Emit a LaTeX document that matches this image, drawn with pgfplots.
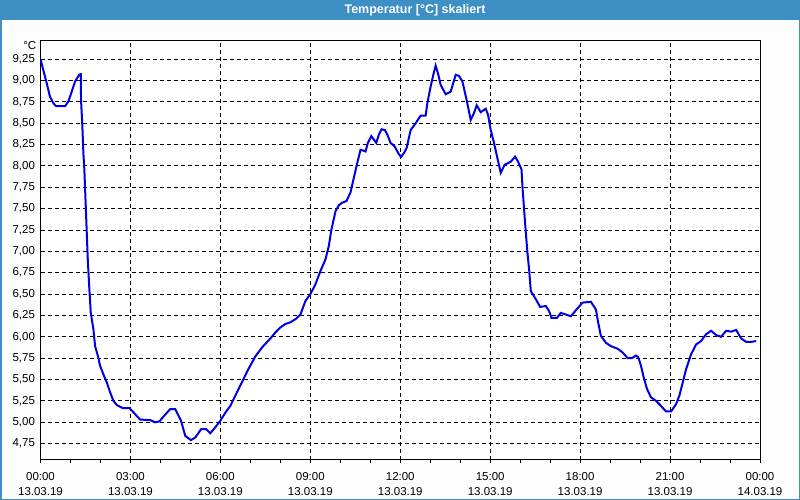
\documentclass[border=0pt]{standalone}
\usepackage{fontspec}
\setmainfont{Liberation Sans}
\usepackage{pgfplots}
\pgfplotsset{compat=1.18}
\definecolor{titleblue}{RGB}{61,143,196}
\definecolor{curveblue}{RGB}{0,0,230}
\definecolor{bgpanel}{RGB}{252,253,252}
\begin{document}
\fontsize{11.5bp}{15bp}\selectfont
\begin{tikzpicture}
\fill[bgpanel] (0bp,0bp) rectangle (800bp,500bp);
\fill[titleblue] (0bp,479.5bp) rectangle (800bp,500bp);
\draw[titleblue, line width=1.5bp] (0.75bp,500bp) -- (0.75bp,0.75bp) -- (799.25bp,0.75bp) -- (799.25bp,500bp);
\node[text=white, font=\fontsize{12.5bp}{14bp}\selectfont\bfseries] at (415bp,490bp) {Temperatur [°C] skaliert};
\node[anchor=east, inner sep=0pt] at (36.5bp,454bp) {°C};
\begin{axis}[
  at={(40.5bp,40bp)}, anchor=south west,
  width=719.5bp, height=419.3bp, scale only axis,
  axis background/.style={fill=white},
  xmin=0, xmax=24, ymin=4.557, ymax=9.467,
  xtick={0,3,...,24},
  xticklabels={{00:00\\13.03.19},{03:00\\13.03.19},{06:00\\13.03.19},{09:00\\13.03.19},{12:00\\13.03.19},{15:00\\13.03.19},{18:00\\13.03.19},{21:00\\13.03.19},{00:00\\14.03.19}},
  minor xtick={1,2,4,5,7,8,10,11,13,14,16,17,19,20,22,23},
  ytick={4.75,5.00,5.25,5.50,5.75,6.00,6.25,6.50,6.75,7.00,7.25,7.50,7.75,8.00,8.25,8.50,8.75,9.00,9.25},
  yticklabel style={xshift=1.5bp, /pgf/number format/.cd, use comma, fixed, fixed zerofill, precision=2, assume math mode=true},
  tick label style={font=\fontsize{11.5bp}{15bp}\selectfont},
  xticklabel style={align=center, yshift=-5bp},
  tick pos=left, tick align=outside,
  major tick length=3bp, minor tick length=3bp,
  ytick style={draw=none},
  xtick style={black, line width=1bp},
  minor tick style={black, line width=1bp},
  grid=major,
  major grid style={black, line width=1bp, dash pattern=on 4bp off 3bp},
  axis line style={black, line width=1bp},
]
\addplot[curveblue, line width=2bp] coordinates {
(0,9.25)(0.207,8.97)(0.317,8.81)(0.428,8.736)(0.518,8.70)(0.819,8.70)(0.929,8.755)(1.042,8.87)(1.153,8.99)(1.296,9.07)(1.343,9.075)
(1.353,8.77)(1.397,8.46)(1.430,8.15)(1.463,7.96)(1.577,6.906)(1.630,6.555)(1.677,6.28)(1.764,6.09)(1.821,5.89)(1.911,5.78)(1.988,5.66)
(2.098,5.56)(2.212,5.465)(2.322,5.35)(2.432,5.25)(2.546,5.20)(2.746,5.165)(2.967,5.165)(3.101,5.115)(3.324,5.03)(3.658,5.025)
(3.826,4.998)(3.969,5.01)(4.126,5.075)(4.327,5.153)(4.494,5.153)(4.684,5.02)(4.828,4.84)(5.018,4.79)(5.162,4.82)(5.363,4.92)
(5.520,4.92)(5.663,4.87)(5.830,4.94)(5.997,5.016)(6.164,5.11)(6.331,5.19)(6.498,5.31)(6.665,5.43)(6.933,5.62)(7.167,5.77)
(7.401,5.88)(7.668,5.98)(7.835,6.05)(8.002,6.11)(8.169,6.15)(8.336,6.17)(8.503,6.205)(8.670,6.26)(8.837,6.42)(9.004,6.50)
(9.171,6.615)(9.338,6.77)(9.505,6.905)(9.616,7.06)(9.696,7.24)(9.840,7.47)(9.950,7.54)(10.064,7.57)(10.207,7.59)(10.341,7.69)
(10.451,7.86)(10.565,8.035)(10.675,8.19)(10.765,8.18)(10.842,8.17)(10.919,8.27)(11.033,8.35)(11.119,8.31)(11.199,8.27)(11.286,8.366)
(11.377,8.43)(11.487,8.42)(11.567,8.37)(11.677,8.27)(11.811,8.23)(11.935,8.15)(12.022,8.105)(12.122,8.15)(12.212,8.21)(12.346,8.42)
(12.513,8.50)(12.680,8.59)(12.847,8.59)(12.904,8.736)(13.014,8.93)(13.104,9.07)(13.181,9.175)(13.258,9.086)(13.348,8.95)(13.515,8.84)
(13.682,8.87)(13.849,9.067)(13.959,9.055)(14.073,8.99)(14.216,8.77)(14.350,8.54)(14.460,8.62)(14.550,8.71)(14.684,8.63)(14.851,8.67)
(14.928,8.60)(15.018,8.42)(15.128,8.27)(15.242,8.09)(15.352,7.92)(15.486,8.015)(15.686,8.05)(15.830,8.11)(15.930,8.05)(16.044,7.96)
(16.077,7.76)(16.131,7.49)(16.188,7.22)(16.244,6.98)(16.298,6.79)(16.355,6.535)(16.522,6.44)(16.665,6.35)(16.856,6.36)(16.966,6.30)
(17.046,6.22)(17.223,6.22)(17.357,6.28)(17.524,6.26)(17.691,6.24)(17.858,6.31)(18.082,6.40)(18.359,6.41)(18.526,6.32)(18.603,6.165)
(18.693,6.01)(18.860,5.93)(19.027,5.89)(19.251,5.86)(19.419,5.815)(19.586,5.75)(19.729,5.75)(19.863,5.78)(19.940,5.76)(20.030,5.66)
(20.120,5.525)(20.230,5.39)(20.364,5.29)(20.531,5.25)(20.698,5.19)(20.865,5.125)(21.032,5.125)(21.199,5.21)(21.310,5.31)(21.423,5.465)
(21.534,5.62)(21.701,5.795)(21.868,5.91)(22.035,5.95)(22.202,6.03)(22.369,6.07)(22.536,6.02)(22.703,6.00)(22.870,6.07)(23.037,6.06)
(23.204,6.08)(23.371,5.98)(23.538,5.94)(23.705,5.94)(23.872,5.95)
};
\end{axis}
\pgfresetboundingbox
\path (0bp,0bp) rectangle (800bp,500bp);
\end{tikzpicture}
\end{document}
